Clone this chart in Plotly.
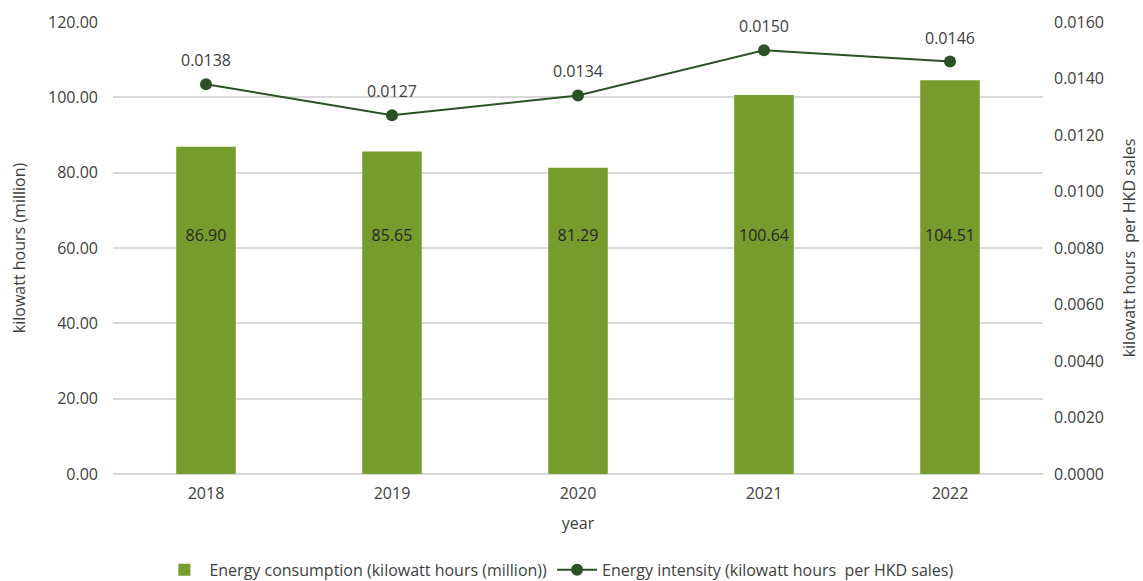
import plotly.graph_objects as go

# Annual energy figures
years = ["2018", "2019", "2020", "2021", "2022"]
consumption = [86.90, 85.65, 81.29, 100.64, 104.51]          # kWh (million)
intensity = [0.0138, 0.0127, 0.0134, 0.0150, 0.0146]         # kWh per HKD sales

left_ticks = [0, 20, 40, 60, 80, 100, 120]
right_ticks = [0, 0.002, 0.004, 0.006, 0.008, 0.010, 0.012, 0.014, 0.016]

BAR_GREEN = "#769c2e"
LINE_GREEN = "#2c5127"
TEXT = "#404040"
GRID = "#d9d9d9"
FONT = "Open Sans, Noto Sans, sans-serif"
FS = 16

fig = go.Figure()

fig.add_trace(go.Bar(
    x=years, y=consumption,
    name="Energy consumption (kilowatt hours (million))",
    marker=dict(color=BAR_GREEN, line=dict(width=0)),
    width=0.32,
    yaxis="y",
))

# Value labels sit at a common height inside each bar
label_level = 63
fig.add_trace(go.Scatter(
    x=years, y=[label_level] * len(years),
    mode="text",
    text=[f"{v:.2f}" for v in consumption],
    textposition="middle center",
    textfont=dict(size=FS, color="#262626", family=FONT),
    showlegend=False, hoverinfo="skip",
    yaxis="y",
))

fig.add_trace(go.Scatter(
    x=years, y=intensity,
    name="Energy intensity (kilowatt hours  per HKD sales)",
    mode="lines+markers",
    line=dict(color=LINE_GREEN, width=2),
    marker=dict(color=LINE_GREEN, size=12),
    yaxis="y2",
))

# Intensity value labels above each point
for i, v in enumerate(intensity):
    fig.add_annotation(
        x=i, y=v, xref="x", yref="y2",
        text=f"{v:.4f}", showarrow=False, yshift=24,
        font=dict(size=FS, color=TEXT, family=FONT),
    )

fig.update_layout(
    width=1143, height=581,
    margin=dict(l=113, r=100, t=22, b=107, autoexpand=False),
    paper_bgcolor="white", plot_bgcolor="white",
    font=dict(family=FONT, size=FS, color=TEXT),
    showlegend=True,
    legend=dict(
        orientation="h", x=0.48, xanchor="center",
        yref="container", y=0.019, yanchor="middle",
        font=dict(size=FS, color=TEXT, family=FONT),
        itemwidth=40, tracegroupgap=0,
    ),
    xaxis=dict(
        type="category", range=[-0.5, 4.5], automargin=False,
        showgrid=False, showline=False, zeroline=False,
        ticks="", tickfont=dict(size=FS, color=TEXT), ticklabelstandoff=8,
        title=dict(text="year", font=dict(size=FS, color=TEXT), standoff=14),
    ),
    yaxis=dict(
        range=[0, 120], tickvals=left_ticks, automargin=False,
        ticktext=[f"{t:.2f}" for t in left_ticks],
        showgrid=True, gridcolor=GRID, gridwidth=1.5,
        zeroline=True, zerolinecolor=GRID, zerolinewidth=1.5,
        showline=False, ticks="", ticklabelstandoff=14,
        tickfont=dict(size=FS, color=TEXT),
        title=dict(text="kilowatt hours (million)", font=dict(size=FS, color=TEXT), standoff=18),
    ),
    yaxis2=dict(
        range=[0, 0.016], tickvals=right_ticks, automargin=False,
        ticktext=[f"{t:.4f}" for t in right_ticks],
        overlaying="y", side="right",
        showgrid=False, zeroline=False, showline=False, ticks="",
        ticklabelstandoff=10,
        tickfont=dict(size=FS, color=TEXT),
        title=dict(text="kilowatt hours  per HKD sales", font=dict(size=FS, color=TEXT), standoff=20),
    ),
)

fig.write_html("out.html")
